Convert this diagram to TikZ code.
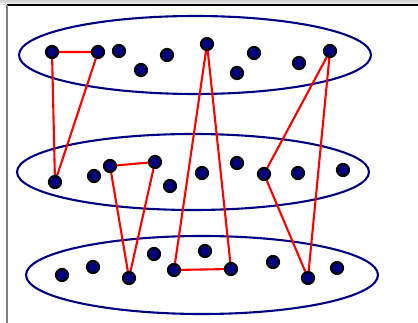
\documentclass[tikz,border=0pt]{standalone}
\usetikzlibrary{backgrounds}
\definecolor{dotNavy}{HTML}{000080}
\definecolor{edgeRed}{HTML}{FF0000}
\definecolor{frameGray}{HTML}{808080}
\tikzset{
  dot/.style={circle, fill=dotNavy, draw=black, line width=2.2pt, minimum size=12pt, inner sep=0pt},
  layer/.style={draw=dotNavy, line width=2.1pt},
  link/.style={draw=edgeRed, line width=2.1pt}
}
\begin{document}
\begin{tikzpicture}[x=1pt, y=-1pt]
        \useasboundingbox (0,0) rectangle (418,323);
        \shade[top color=gray!35, bottom color=gray!10] (0,0) rectangle (418,5);
        \draw[black, line width=1.2pt] (7,5)--(418,5);
        \draw[frameGray, line width=1.2pt] (7,5)--(7,323);
        % top layer
        \foreach \n/\x/\y in {a1/52/52, a2/98/52, a3/119/51, a4/141/70, a5/167/55,
            a6/207/44, a7/237/73, a8/254/53, a9/299/63, a10/330/51}
          \node[dot] (\n) at (\x,\y) {};
        % middle layer
        \foreach \n/\x/\y in {b1/55/182, b2/94/176, b3/110/166, b4/155/162, b5/170/186,
            b6/202/173, b7/237/163, b8/264/174, b9/298/173, b10/343/170}
          \node[dot] (\n) at (\x,\y) {};
        % bottom layer
        \foreach \n/\x/\y in {c1/62/275, c2/93/267, c3/129/278, c4/154/254, c5/174/270,
            c6/205/251, c7/231/269, c8/273/262, c9/308/278, c10/337/268}
          \node[dot] (\n) at (\x,\y) {};
        \begin{scope}[on background layer]
          \draw[layer] (195,55) ellipse [x radius=176, y radius=39];
          \draw[layer] (193,172) ellipse [x radius=176, y radius=38];
          \draw[layer] (202,275) ellipse [x radius=176, y radius=39];
          \draw[link] (a1)--(a2)--(b1)--(a1);
          \draw[link] (b3)--(b4)--(c3)--(b3);
          \draw[link] (a6)--(c5)--(c7)--(a6);
          \draw[link] (a10)--(b8)--(c9)--(a10);
        \end{scope}
      \end{tikzpicture}
\end{document}
